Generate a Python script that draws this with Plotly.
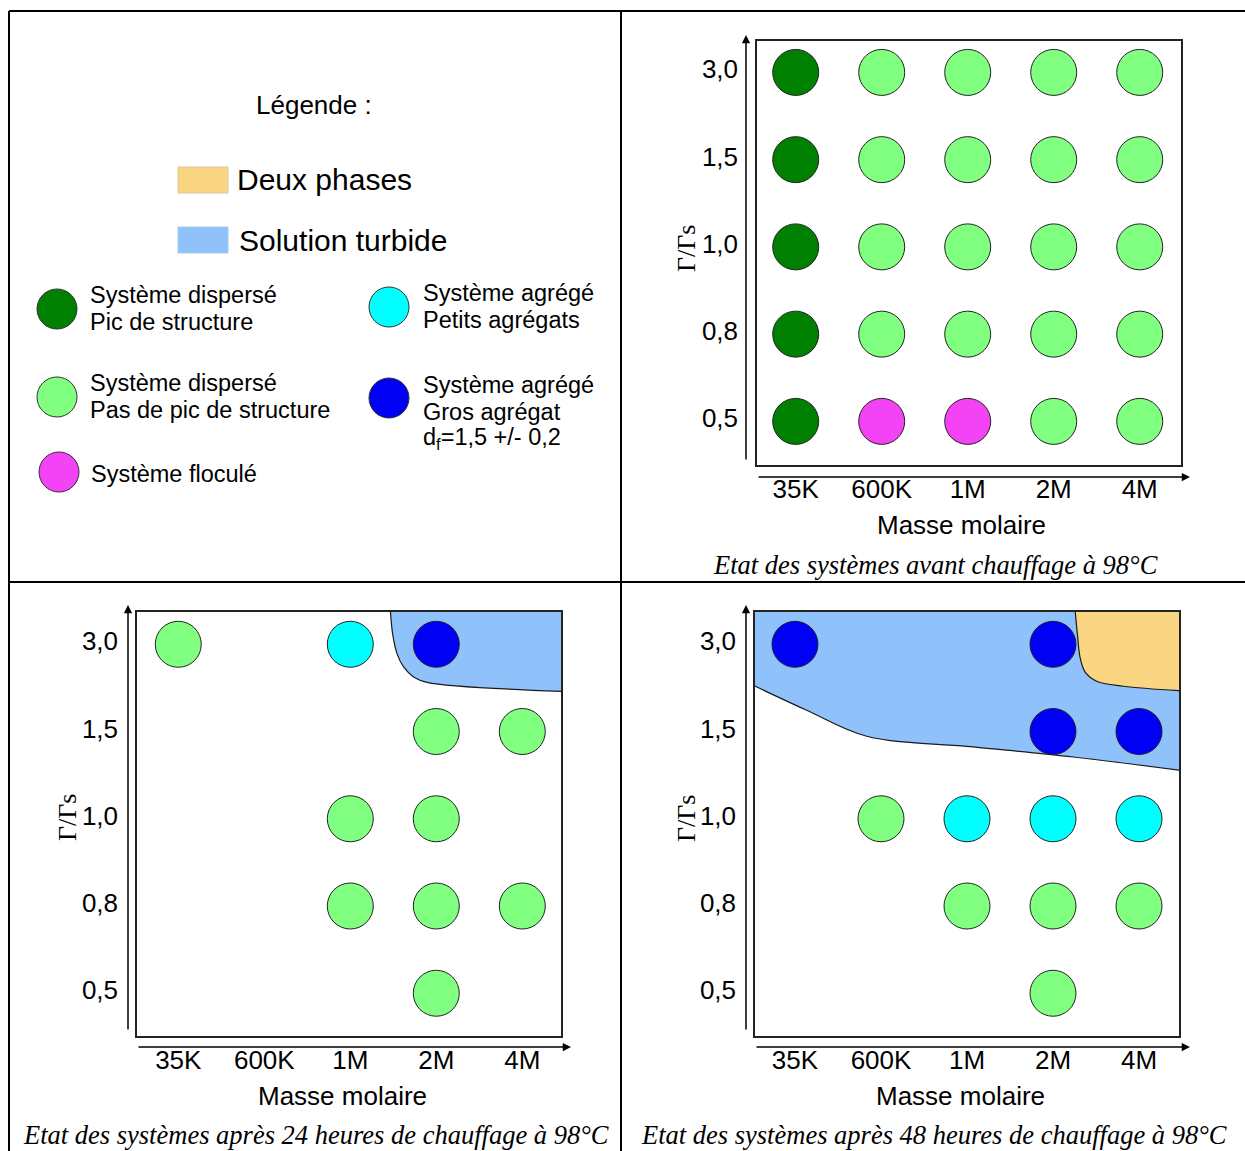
import plotly.graph_objects as go

W, H = 1245, 1151

# ---------------- data ----------------
masses = ["35K", "600K", "1M", "2M", "4M"]
ratios = ["0,5", "0,8", "1,0", "1,5", "3,0"]          # bottom -> top

# state of each system: rows = ratios (0,5 ... 3,0), columns = masses
# P = dispersé avec pic de structure, D = dispersé sans pic, F = floculé,
# A = agrégé petits agrégats, G = agrégé gros agrégat, None = pas de mesure
etat_avant = [
    ["P", "F", "F", "D", "D"],
    ["P", "D", "D", "D", "D"],
    ["P", "D", "D", "D", "D"],
    ["P", "D", "D", "D", "D"],
    ["P", "D", "D", "D", "D"],
]
etat_24h = [
    [None, None, None, "D", None],
    [None, None, "D", "D", "D"],
    [None, None, "D", "D", None],
    [None, None, None, "D", "D"],
    ["D", None, "A", "G", None],
]
etat_48h = [
    [None, None, None, "D", None],
    [None, None, "D", "D", "D"],
    [None, "D", "A", "A", "A"],
    [None, None, None, "G", "G"],
    ["G", None, None, "G", None],
]

# boundaries of the shaded zones (x: mass index, y: ratio index)
turbide_24h_x = [2.465, 2.492, 2.543, 2.620, 2.736, 2.892, 4.60]
turbide_24h_y = [4.40, 4.122, 3.893, 3.740, 3.625, 3.564, 3.455]
turbide_48h_x = [-0.55, 0.136, 0.834, 2.074, 3.236, 4.60]
turbide_48h_y = [3.56, 3.244, 2.946, 2.823, 2.708, 2.540]
deux_phases_48h_x = [3.256, 3.283, 3.314, 3.372, 3.508, 3.817, 4.60]
deux_phases_48h_y = [4.40, 4.123, 3.854, 3.683, 3.576, 3.519, 3.460]

colors = {"P": "#008000", "D": "#80FF80", "F": "#F443F4",
          "A": "#00FFFF", "G": "#0000F5"}
fill_turbide = "#8FC2FA"
fill_deux = "#FAD683"

# ---------------- helpers ----------------
def PX(px):
    return px / W

def PY(py):
    return 1 - py / H

SANS = "Liberation Sans, Arial, sans-serif"
SERIF = "Liberation Serif, Times New Roman, serif"

fig = go.Figure()

def points(grid):
    xs, ys, cs = [], [], []
    for r, row in enumerate(grid):
        for c, s in enumerate(row):
            if s is not None:
                xs.append(c)
                ys.append(r)
                cs.append(colors[s])
    return xs, ys, cs

def add_zone(xs, ys, color, xa, ya):
    fig.add_trace(go.Scatter(x=xs, y=ys, mode="lines", xaxis=xa, yaxis=ya,
                             line=dict(color="#1a1a1a", width=1.2, shape="spline"),
                             hoverinfo="skip"))
    fig.add_trace(go.Scatter(x=[xs[0], xs[-1]], y=[4.6, 4.6], mode="lines",
                             xaxis=xa, yaxis=ya, fill="tonexty", fillcolor=color,
                             line=dict(width=0), hoverinfo="skip"))

def add_dots(grid, xa, ya):
    xs, ys, cs = points(grid)
    fig.add_trace(go.Scatter(x=xs, y=ys, mode="markers", xaxis=xa, yaxis=ya,
                             marker=dict(size=46, color=cs,
                                         line=dict(color="#222", width=1)),
                             hoverinfo="skip"))

# zones first, then dots
add_zone(turbide_24h_x, turbide_24h_y, fill_turbide, "x2", "y2")
add_zone(turbide_48h_x, turbide_48h_y, fill_turbide, "x3", "y3")
add_zone(deux_phases_48h_x, deux_phases_48h_y, fill_deux, "x3", "y3")
add_dots(etat_avant, "x", "y")
add_dots(etat_24h, "x2", "y2")
add_dots(etat_48h, "x3", "y3")

# ---------------- axes ----------------
panels = [
    # suffix, box px (x0, x1, y0, y1), xrange, yrange
    ("", (757, 1181, 41, 465), [-0.45, 4.48], [-0.50, 4.36]),
    ("2", (137, 561, 612, 1036), [-0.48, 4.45], [-0.49, 4.37]),
    ("3", (755, 1179, 612, 1036), [-0.465, 4.465], [-0.49, 4.37]),
]
layout_axes = {}
for suf, (x0, x1, y0, y1), xr, yr in panels:
    common = dict(showline=True, mirror=True, linecolor="#222", linewidth=1.5,
                  showgrid=False, zeroline=False, ticks="",
                  tickfont=dict(family=SANS, size=26, color="black"),
                  fixedrange=True)
    layout_axes["xaxis" + suf] = dict(domain=[PX(x0), PX(x1)], range=xr,
                                      anchor="y" + suf, tickmode="array",
                                      tickvals=list(range(len(masses))),
                                      ticktext=masses, ticklabelstandoff=0,
                                      **common)
    layout_axes["yaxis" + suf] = dict(domain=[PY(y1), PY(y0)], range=yr,
                                      anchor="x" + suf, tickmode="array",
                                      tickvals=[i + 0.035 for i in range(len(ratios))],
                                      ticktext=ratios, ticklabelstandoff=12,
                                      **common)

fig.update_layout(**layout_axes)

# ---------------- annotations ----------------
ann = []
shapes = []

def text(px, py, s, size, family=SANS, xanchor="center", italic=False, angle=0):
    ann.append(dict(x=PX(px), y=PY(py), xref="paper", yref="paper", text=s,
                    showarrow=False, xanchor=xanchor, yanchor="middle",
                    textangle=angle, borderpad=0,
                    font=dict(family=family, size=size, color="black",
                              style="italic" if italic else "normal")))

def arrow(x_tip, y_tip, x_tail, y_tail):
    ann.append(dict(x=PX(x_tip), y=PY(y_tip), xref="paper", yref="paper",
                    ax=x_tail - x_tip, ay=y_tail - y_tip, axref="pixel", ayref="pixel",
                    text="", showarrow=True, arrowhead=2, arrowsize=1.1,
                    arrowwidth=1.5, arrowcolor="black"))

# axis arrows
arrow(746, 35, 746, 461)
arrow(1190, 477, 757, 477)
arrow(128, 605, 128, 1031)
arrow(571, 1047, 137, 1047)
arrow(746, 605, 746, 1031)
arrow(1190, 1047, 755, 1047)

# axis titles and captions
for (cx, ty, gx, gy, capy, cap_x, cap) in [
    (961, 525, 686, 248, 565, 935, "Etat des systèmes avant chauffage à 98°C"),
    (342, 1096, 67, 818, 1135, 316, "Etat des systèmes après 24 heures de chauffage à 98°C"),
    (960, 1096, 686, 818, 1135, 934, "Etat des systèmes après 48 heures de chauffage à 98°C"),
]:
    text(cx, ty, "Masse molaire", 26)
    text(gx, gy, "Γ/Γs", 26, family=SERIF, angle=-90)
    text(cap_x, capy, cap, 26.5, family=SERIF, italic=True)

# legend panel
text(314, 105, "Légende :", 26)
shapes.append(dict(type="rect", xref="paper", yref="paper", x0=PX(178), x1=PX(228),
                   y0=PY(193), y1=PY(167), fillcolor=fill_deux,
                   line=dict(color="#d8c8a0", width=1)))
text(236, 180, "Deux phases", 30, xanchor="left")
shapes.append(dict(type="rect", xref="paper", yref="paper", x0=PX(178), x1=PX(228),
                   y0=PY(253), y1=PY(227), fillcolor=fill_turbide,
                   line=dict(color="#a8c8e8", width=1)))
text(238, 240, "Solution turbide", 30, xanchor="left")

legend_items = [
    ("P", 57, 309, 89, ["Système dispersé", "Pic de structure"]),
    ("D", 57, 397, 89, ["Système dispersé", "Pas de pic de structure"]),
    ("F", 59, 472, 90, ["Système floculé"]),
    ("A", 389, 307, 422, ["Système agrégé", "Petits agrégats"]),
    ("G", 389, 398, 422, ["Système agrégé", "Gros agrégat", "d<sub>f</sub>=1,5 +/- 0,2"]),
]
for key, cx, cy, tx, lines in legend_items:
    shapes.append(dict(type="circle", xref="paper", yref="paper",
                       x0=PX(cx - 20), x1=PX(cx + 20), y0=PY(cy + 20), y1=PY(cy - 20),
                       fillcolor=colors[key], line=dict(color="#333", width=1)))
    n = len(lines)
    if n == 1:
        text(tx, cy + 2, lines[0], 23.5, xanchor="left")
    else:
        start = cy - 14 if n == 2 else cy - 13
        for i, s in enumerate(lines):
            text(tx, start + 27 * i, s, 23.5, xanchor="left")

# panel frame lines
for (x0, y0, x1, y1) in [(9, 11, 1245, 11), (9, 11, 9, 1151), (621, 11, 621, 1151),
                         (9, 582, 1245, 582)]:
    shapes.append(dict(type="line", xref="paper", yref="paper", x0=PX(x0), y0=PY(y0),
                       x1=PX(x1), y1=PY(y1), line=dict(color="black", width=2)))

fig.update_layout(width=W, height=H, margin=dict(l=0, r=0, t=0, b=0),
                  paper_bgcolor="white", plot_bgcolor="white", showlegend=False,
                  annotations=ann, shapes=shapes)

fig.write_html("out.html", config={"displayModeBar": False},
               post_script="document.body.style.margin='0';")
